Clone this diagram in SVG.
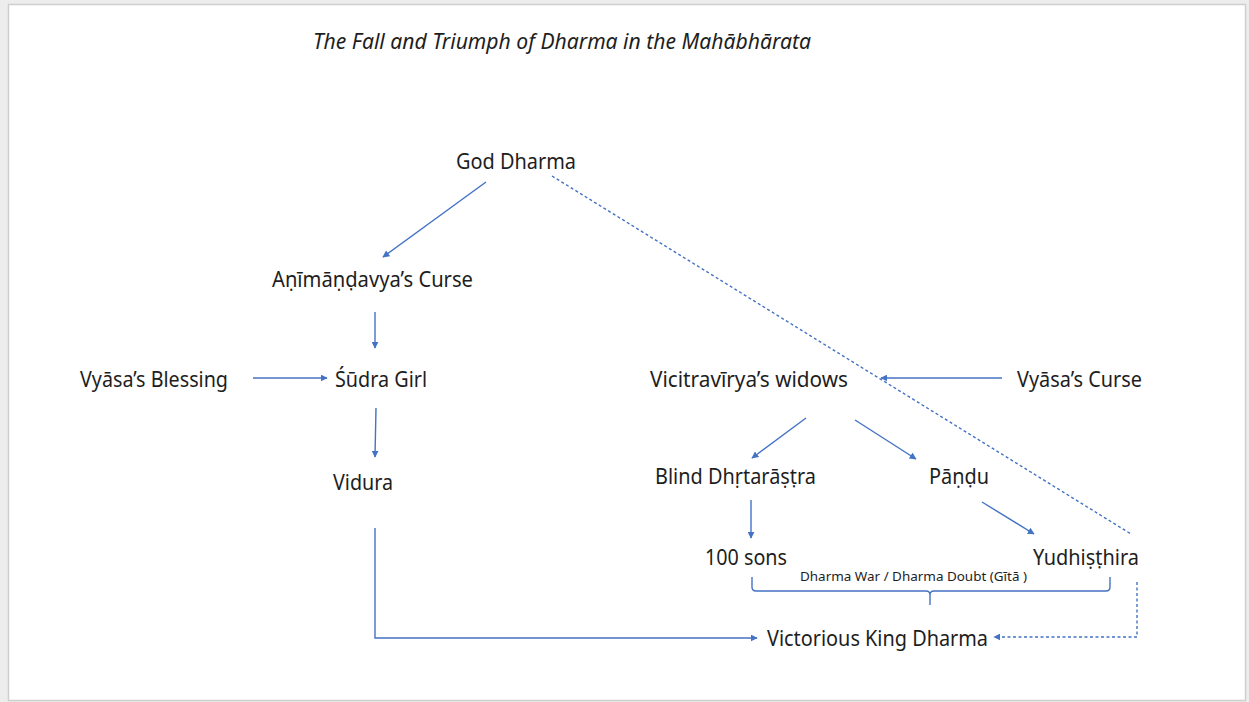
<svg xmlns="http://www.w3.org/2000/svg" width="1249" height="702" viewBox="0 0 1249 702">
<style>
.t{font-family:"Noto Sans","Open Sans","Liberation Sans",sans-serif;font-size:21px;fill:#1e1e1e}
.s{font-family:"Noto Sans","Open Sans","Liberation Sans",sans-serif;font-size:13px;fill:#1e1e1e}
.ti{font-family:"Noto Sans","Open Sans","Liberation Sans",sans-serif;font-size:21px;font-style:italic;fill:#1e1e1e}
.c{fill:none;stroke:#4472c4;stroke-width:1.4}
.d{fill:none;stroke:#4472c4;stroke-width:1.4;stroke-dasharray:3 2.5}
</style>
<defs>
<marker id="a" viewBox="0 0 10 10" refX="9" refY="5" markerWidth="7" markerHeight="7" markerUnits="userSpaceOnUse" orient="auto"><path d="M0,0 L10,5 L0,10 z" fill="#4472c4"/></marker>
</defs>
<rect x="0" y="0" width="1249" height="702" fill="#ededed"/>
<rect x="8.5" y="4.5" width="1237" height="696" fill="#ffffff" stroke="#cfcfcf" stroke-width="1.5"/>
<text class="ti" x="313" y="49" textLength="498" lengthAdjust="spacingAndGlyphs">The Fall and Triumph of Dharma in the Mahābhārata</text>
<g id="connectors">
<line class="c" x1="486" y1="182" x2="383" y2="257" marker-end="url(#a)"/>
<line class="c" x1="375" y1="312" x2="375" y2="348" marker-end="url(#a)"/>
<line class="c" x1="253" y1="378" x2="327" y2="378" marker-end="url(#a)"/>
<line class="c" x1="376" y1="408" x2="375" y2="457" marker-end="url(#a)"/>
<polyline class="c" points="375,528 375,638 757,638" marker-end="url(#a)"/>
<line class="c" x1="1002" y1="378" x2="881" y2="378" marker-end="url(#a)"/>
<line class="c" x1="806" y1="418" x2="752" y2="458" marker-end="url(#a)"/>
<line class="c" x1="855" y1="420" x2="916" y2="459" marker-end="url(#a)"/>
<line class="c" x1="751" y1="500" x2="751" y2="538" marker-end="url(#a)"/>
<line class="c" x1="982" y1="502" x2="1034" y2="534" marker-end="url(#a)"/>
<line class="d" x1="552" y1="176" x2="1131" y2="534"/>
<polyline class="d" points="1137,582 1137,637 994,637" marker-end="url(#a)"/>
<path class="c" d="M752,577 L752,587 Q752,591 756,591 L926,591 Q930,591 930,595 L930,605 M930,595 Q930,591 934,591 L1106,591 Q1110,591 1110,587 L1110,577"/>
</g>
<g id="god-dharma"><text class="t" x="456" y="169" textLength="120" lengthAdjust="spacingAndGlyphs">God Dharma</text></g>
<g id="animandavya"><text class="t" x="272" y="287" textLength="201" lengthAdjust="spacingAndGlyphs">Aṇīmāṇḍavya’s Curse</text></g>
<g id="vyasa-blessing"><text class="t" x="80" y="387" textLength="148" lengthAdjust="spacingAndGlyphs">Vyāsa’s Blessing</text></g>
<g id="sudra-girl"><text class="t" x="335" y="387" textLength="92" lengthAdjust="spacingAndGlyphs">Śūdra Girl</text></g>
<g id="vidura"><text class="t" x="333" y="490" textLength="60" lengthAdjust="spacingAndGlyphs">Vidura</text></g>
<g id="vicitravirya"><text class="t" x="650" y="387" textLength="198" lengthAdjust="spacingAndGlyphs">Vicitravīrya’s widows</text></g>
<g id="vyasa-curse"><text class="t" x="1017" y="387" textLength="125" lengthAdjust="spacingAndGlyphs">Vyāsa’s Curse</text></g>
<g id="dhrtarastra"><text class="t" x="655" y="484" textLength="161" lengthAdjust="spacingAndGlyphs">Blind Dhṛtarāṣṭra</text></g>
<g id="pandu"><text class="t" x="929" y="484" textLength="60" lengthAdjust="spacingAndGlyphs">Pāṇḍu</text></g>
<g id="sons"><text class="t" x="705" y="565" textLength="82" lengthAdjust="spacingAndGlyphs">100 sons</text></g>
<g id="yudhisthira"><text class="t" x="1033" y="565" textLength="106" lengthAdjust="spacingAndGlyphs">Yudhiṣṭhira</text></g>
<g id="war-label"><text class="s" x="800" y="581" textLength="227" lengthAdjust="spacingAndGlyphs">Dharma War / Dharma Doubt (Gītā )</text></g>
<g id="victorious"><text class="t" x="767" y="646" textLength="221" lengthAdjust="spacingAndGlyphs">Victorious King Dharma</text></g>
</svg>
